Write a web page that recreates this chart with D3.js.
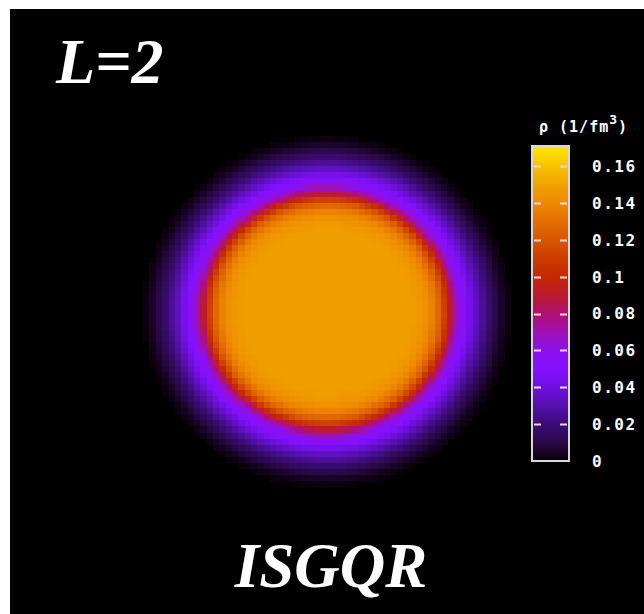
<!DOCTYPE html>
<html lang="en">
<head>
<meta charset="UTF-8">
<title>ISGQR density L=2</title>
<style>
    body { margin: 0; background: #fff; }
    svg { display: block; }
</style>
</head>
<body>
<svg id="chart"></svg>
<script src="https://d3js.org/d3.v7.min.js"></script>
<script>
    // grid of the density map (cells per side)
    const gridSize = 100;
    // radial density profile rho(r) [1/fm^3], r in grid cells from the centre
    const profileRadii = [0, 13, 14, 15, 16, 17, 18, 19, 20, 21, 22, 23, 24, 25, 26, 27, 28, 29];
    const densityProfile = [0.148, 0.148, 0.147, 0.145, 0.141, 0.134, 0.122, 0.103, 0.078, 0.058, 0.049, 0.039, 0.030, 0.022, 0.014, 0.008, 0.003, 0];
    // colour map stops
    const cmapValues = [0, 0.01, 0.02, 0.03, 0.04, 0.05, 0.06, 0.07, 0.08, 0.09, 0.1, 0.11, 0.12, 0.13, 0.14, 0.15, 0.16, 0.171];
    const cmapColors = ['#080008', '#2a0848', '#3c0c78', '#5610ac', '#7010e0', '#8610ff', '#8c10ec', '#a010b4', '#b01070', '#bc1a30',
                        '#c42800', '#cc3c00', '#d85600', '#e46e00', '#ee8a00', '#f0a200', '#f8c200', '#ffe800'];
    const tickValues = [0, 0.02, 0.04, 0.06, 0.08, 0.1, 0.12, 0.14, 0.16];

    const width = 644, height = 614;
    const svg = d3.select('#chart').attr('width', width).attr('height', height);

    const plot = { x0: 10, y0: 9, x1: 644, y1: 614 };
    svg.append('rect')
        .attr('x', plot.x0).attr('y', plot.y0)
        .attr('width', plot.x1 - plot.x0).attr('height', plot.y1 - plot.y0)
        .attr('fill', '#000');

    const color = d3.scaleLinear().domain(cmapValues).range(cmapColors).clamp(true);
    const profile = d3.scaleLinear().domain(profileRadii).range(densityProfile).clamp(true);

    const idx = d3.range(gridSize);
    const xBand = d3.scaleBand().domain(idx).range([plot.x0, plot.x1]);
    const yBand = d3.scaleBand().domain(idx).range([plot.y0, plot.y1]);

    const cells = [];
    const c = gridSize / 2;
    idx.forEach(j => idx.forEach(i => {
        const rho = profile(Math.hypot(i + 0.5 - c, j + 0.5 - c));
        if (rho > 0) cells.push({ i, j, rho });
    }));

    svg.append('g')
        .attr('shape-rendering', 'crispEdges')
        .selectAll('rect')
        .data(cells)
        .enter()
        .append('rect')
        .attr('x', d => xBand(d.i))
        .attr('y', d => yBand(d.j))
        .attr('width', xBand.bandwidth() + 0.6)
        .attr('height', yBand.bandwidth() + 0.6)
        .attr('fill', d => color(d.rho));

    // colour bar
    const cb = { x: 532, w: 37 };
    const cbScale = d3.scaleLinear().domain([0, 0.171]).range([461, 146]);

    const defs = svg.append('defs');
    const grad = defs.append('linearGradient')
        .attr('id', 'cbar').attr('x1', 0).attr('y1', 1).attr('x2', 0).attr('y2', 0);
    grad.selectAll('stop')
        .data(cmapValues)
        .enter()
        .append('stop')
        .attr('offset', d => d / 0.171)
        .attr('stop-color', d => color(d));

    svg.append('rect')
        .attr('x', cb.x).attr('y', cbScale(0.171))
        .attr('width', cb.w).attr('height', cbScale(0) - cbScale(0.171))
        .attr('fill', 'url(#cbar)')
        .attr('stroke', '#d8d8d8').attr('stroke-width', 2);

    const inner = tickValues.filter(v => v > 0);
    ['left', 'right'].forEach(side => {
        svg.append('g')
            .selectAll('line')
            .data(inner)
            .enter()
            .append('line')
            .attr('x1', side === 'left' ? cb.x + 2 : cb.x + cb.w - 9)
            .attr('x2', side === 'left' ? cb.x + 9 : cb.x + cb.w - 2)
            .attr('y1', d => Math.round(cbScale(d)) + 0.5)
            .attr('y2', d => Math.round(cbScale(d)) + 0.5)
            .attr('stroke', '#f4d4d4')
            .attr('stroke-width', 2);
    });

    svg.append('g')
        .selectAll('text')
        .data(tickValues)
        .enter()
        .append('text')
        .attr('x', 592)
        .attr('y', d => cbScale(d))
        .attr('dy', '0.36em')
        .attr('fill', '#fff')
        .style('font-family', '"DejaVu Sans Mono", monospace')
        .style('font-weight', 'bold')
        .style('font-size', '16px')
        .style('letter-spacing', '1.5px')
        .text(d => d === 0 ? '0' : String(d));

    const unit = svg.append('text')
        .attr('x', 539).attr('y', 132)
        .attr('fill', '#fff')
        .style('font-family', '"DejaVu Sans Mono", monospace')
        .style('font-weight', 'bold')
        .style('font-size', '15px')
        .style('letter-spacing', '1px');
    unit.append('tspan').text('ρ (1/fm');
    unit.append('tspan').attr('dy', -8).style('font-size', '13px').text('3');
    unit.append('tspan').attr('dy', 8).text(')');

    // titles
    svg.append('text')
        .attr('x', 56).attr('y', 83)
        .attr('fill', '#fff')
        .style('font-family', '"Liberation Serif", "Times New Roman", serif')
        .style('font-weight', 'bold').style('font-style', 'italic')
        .style('font-size', '64px')
        .text('L=2');

    svg.append('text')
        .attr('x', 331).attr('y', 587)
        .attr('text-anchor', 'middle')
        .attr('fill', '#fff')
        .style('font-family', '"Liberation Serif", "Times New Roman", serif')
        .style('font-weight', 'bold').style('font-style', 'italic')
        .style('font-size', '63px')
        .text('ISGQR');
</script>
</body>
</html>
